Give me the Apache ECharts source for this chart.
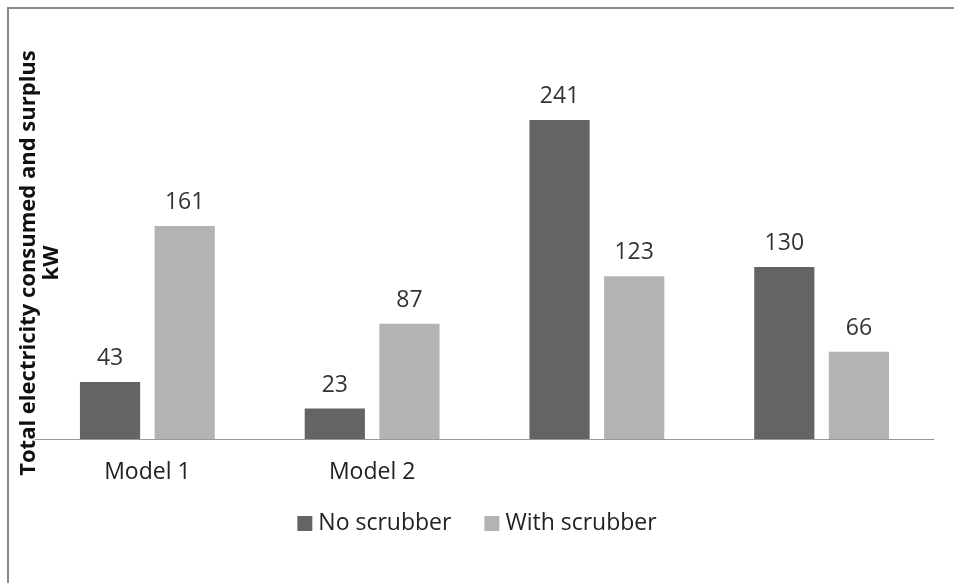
<!DOCTYPE html>
<html>
<head>
    <meta charset="utf-8">
    <title>Total electricity consumed and surplus</title>
    <script src="https://cdn.jsdelivr.net/npm/echarts@6.0.0/dist/echarts.min.js"></script>
    <style>
        html, body { margin: 0; padding: 0; background: #fff; }
        #chart { width: 954px; height: 583px; }
    </style>
</head>
<body>
<div id="chart"></div>
<script>
    // data
    var categories = ['Model 1', 'Model 2', '', ''];
    var noScrubber = [43, 23, 241, 130];
    var withScrubber = [161, 87, 123, 66];

    var font = '"Open Sans", "Noto Sans", sans-serif';
    var chart = echarts.init(document.getElementById('chart'));

    var labelStyle = { show: true, position: 'top', distance: 12, fontFamily: font, fontSize: 23, color: '#333' };

    var option = {
        backgroundColor: '#fff',
        animation: false,
        grid: { left: 35, right: 20, top: 42, bottom: 144 },
        legend: {
            top: 507,
            left: 'center',
            itemWidth: 15,
            itemHeight: 15,
            itemGap: 33,
            icon: 'rect',
            textStyle: { fontFamily: font, fontSize: 23, color: '#222', padding: [0, 0, 0, 1] },
            data: ['No scrubber', 'With scrubber']
        },
        xAxis: {
            type: 'category',
            data: categories,
            axisLine: { lineStyle: { color: '#999', width: 1 } },
            axisTick: { show: false },
            axisLabel: { fontFamily: font, fontSize: 23, color: '#222', margin: 22 }
        },
        yAxis: {
            type: 'value',
            min: 0,
            max: 300,
            show: false
        },
        series: [
            {
                name: 'No scrubber',
                type: 'bar',
                data: noScrubber,
                barGap: '24%',
                barCategoryGap: '40%',
                itemStyle: { color: '#646464' },
                label: labelStyle
            },
            {
                name: 'With scrubber',
                type: 'bar',
                data: withScrubber,
                itemStyle: { color: '#b3b3b3' },
                label: labelStyle
            }
        ],
        graphic: [
            { // chart border (only top and left visible)
                type: 'rect',
                shape: { x: 8, y: 8, width: 1000, height: 640 },
                style: { fill: 'none', stroke: '#8a8a8a', lineWidth: 2 },
                silent: true
            },
            { // y axis title
                type: 'text',
                x: 40,
                y: 263,
                rotation: Math.PI / 2,
                style: {
                    text: 'Total electricity consumed and surplus\nkW',
                    fontFamily: font,
                    fontWeight: 'bold',
                    fontSize: 22,
                    lineHeight: 23,
                    fill: '#111',
                    align: 'center',
                    verticalAlign: 'middle'
                }
            }
        ]
    };

    chart.setOption(option);
</script>
</body>
</html>
